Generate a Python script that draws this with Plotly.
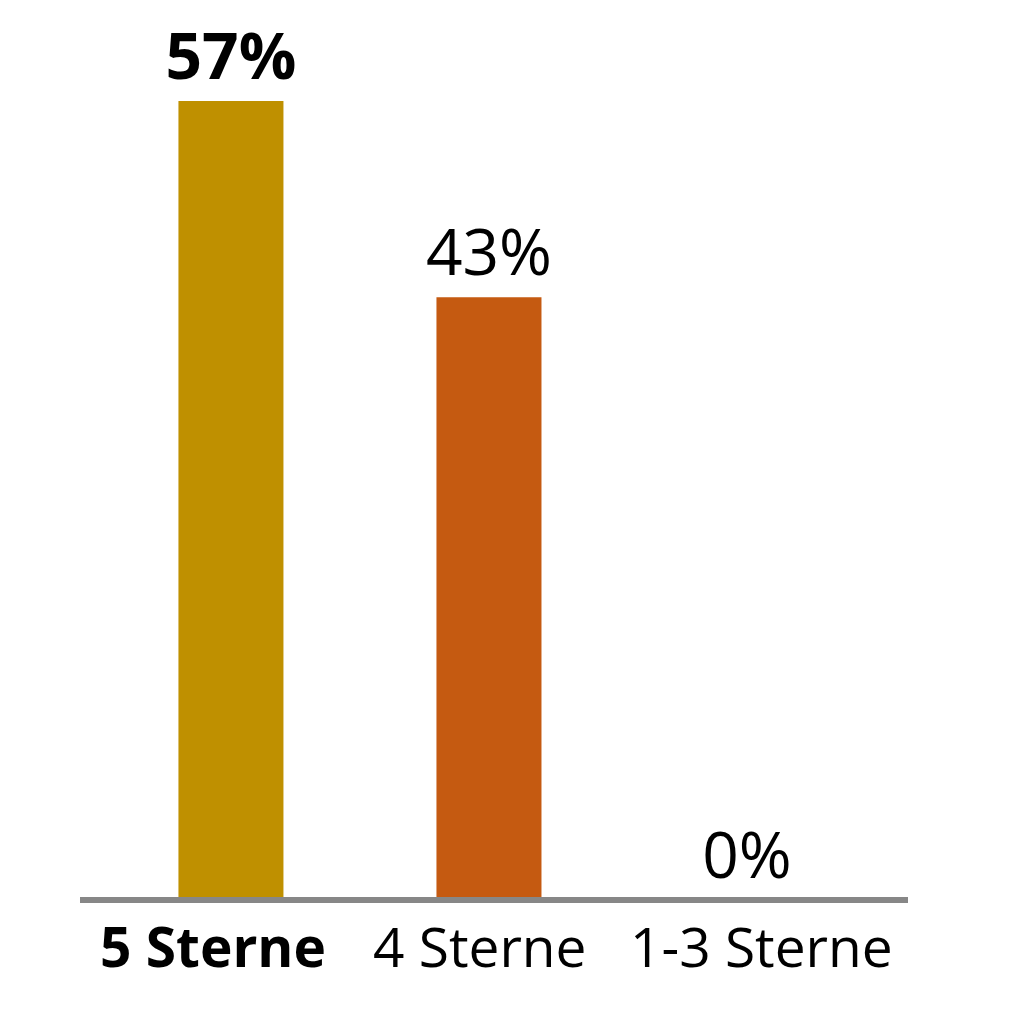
import plotly.graph_objects as go

categories = ["5 Sterne", "4 Sterne", "1-3 Sterne"]
shares = [57, 43, 0]
bar_colors = ["#BF9000", "#C55A11", "#A5A5A5"]

bar_text = ["<b>%d%%</b>" % shares[0]] + ["%d%%" % v for v in shares[1:]]

fig = go.Figure(go.Bar(
    x=categories,
    y=shares,
    width=0.407,
    marker=dict(color=bar_colors, line=dict(width=0)),
    text=bar_text,
    textposition="outside",
    constraintext="none",
    textfont=dict(family="Open Sans", size=64, color="#000000"),
    cliponaxis=False,
))

# grey base line over the full plot width
fig.add_shape(type="line", xref="paper", yref="y", x0=0, x1=1, y0=0, y1=0,
              line=dict(color="#878787", width=6), layer="above")

# category labels (slightly off-centre in the original)
label_shift = [-18, -9, 15]
for i, cat in enumerate(categories):
    fig.add_annotation(x=cat, xref="x", y=0, yref="paper", yanchor="top",
                       text="<b>%s</b>" % cat if i == 0 else cat,
                       showarrow=False, xshift=label_shift[i], yshift=1,
                       font=dict(family="Open Sans", size=55, color="#000000"))

fig.update_xaxes(range=[-0.585, 2.624], showticklabels=False, showline=False,
                 showgrid=False, zeroline=False, automargin=False, ticks="")
fig.update_yaxes(range=[-0.5, 62.77], visible=False, automargin=False)

# page has an 8px body margin, so margins are shifted to compensate
fig.update_layout(
    width=1012, height=1012,
    margin=dict(l=72, r=112, t=12, b=113),
    plot_bgcolor="white", paper_bgcolor="white",
    showlegend=False,
    font=dict(family="Open Sans"),
)

fig.write_html("out.html")
